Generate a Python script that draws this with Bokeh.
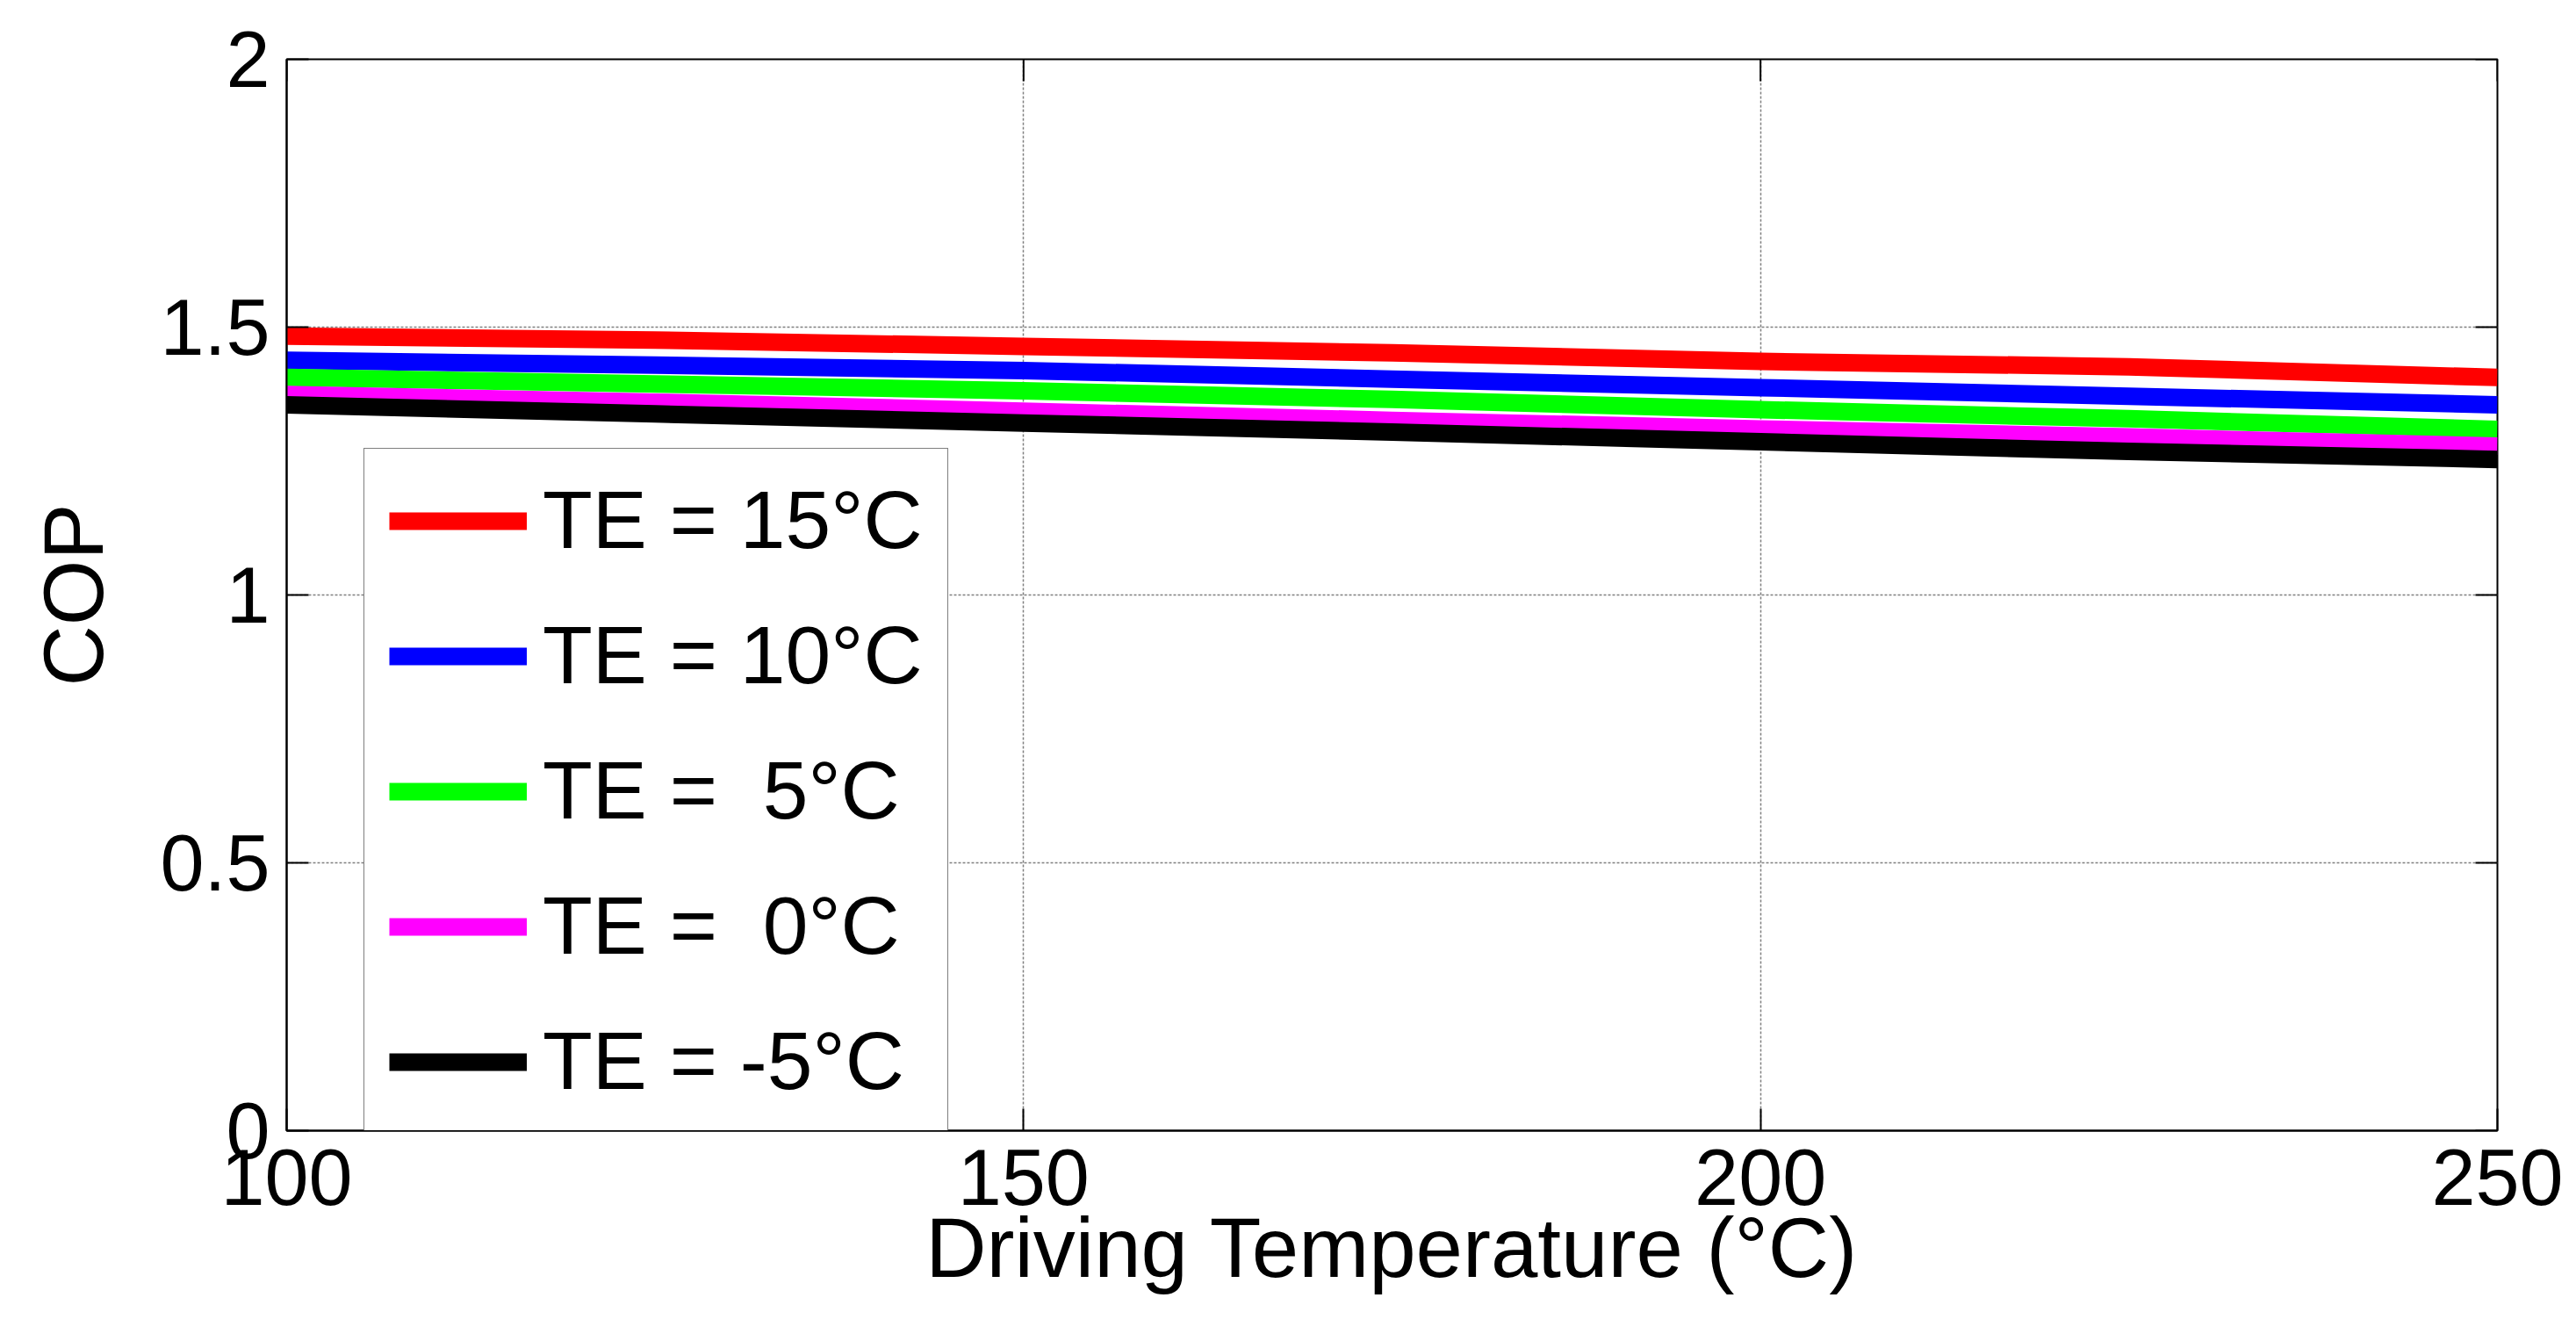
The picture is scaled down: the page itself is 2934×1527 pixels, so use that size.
import math
from bokeh.plotting import figure
from bokeh.models import Range1d, FixedTicker, Legend, LegendItem, NumeralTickFormatter
from bokeh.embed import file_html
from bokeh.resources import INLINE

# ---- data ----
T_DRIVE = [100, 125, 150, 175, 200, 225, 250]
COP_TE15 = [1.483, 1.476, 1.464, 1.452, 1.436, 1.426, 1.406]
COP_TE10 = [1.438, 1.429, 1.419, 1.403, 1.387, 1.371, 1.355]
COP_TE5 = [1.406, 1.394, 1.381, 1.365, 1.346, 1.329, 1.309]
COP_TE0 = [1.374, 1.360, 1.343, 1.326, 1.310, 1.295, 1.278]
COP_TEm5 = [1.355, 1.338, 1.321, 1.304, 1.286, 1.268, 1.253]

SERIES = [COP_TE15, COP_TE10, COP_TE5, COP_TE0, COP_TEm5]
LABELS = ["TE = 15°C", "TE = 10°C", "TE = \u00a05°C", "TE = \u00a00°C", "TE = -5°C"]
COLORS = ["#FF0000", "#0000FF", "#00FF00", "#FF00FF", "#000000"]

X_TICKS = [100, 150, 200, 250]
Y_TICKS = [0, 0.5, 1, 1.5, 2]
X_MIN, X_MAX = 100, 250
Y_MIN, Y_MAX = 0, 2

FONT = "Liberation Sans"
TICK_FS = "90px"
LEGEND_FS = "93px"
LABEL_FS = "96px"

p = figure(width=2934, height=1527, output_backend="svg", toolbar_location=None,
           x_range=Range1d(X_MIN, X_MAX), y_range=Range1d(Y_MIN, Y_MAX),
           min_border_left=326, min_border_right=90, min_border_top=67, min_border_bottom=240,
           x_axis_label="Driving Temperature (°C)", y_axis_label="COP")

p.background_fill_color = "white"
p.border_fill_color = "white"
p.outline_line_color = "black"
p.outline_line_width = 2

renderers = []
for vals, col in zip(SERIES, COLORS):
    r = p.line(T_DRIVE, vals, line_width=20, line_color=col, line_cap="butt", line_join="round")
    renderers.append(r)

p.xaxis.ticker = FixedTicker(ticks=X_TICKS)
p.yaxis.ticker = FixedTicker(ticks=Y_TICKS)
p.yaxis.formatter = NumeralTickFormatter(format="0.[0]")
p.xgrid.ticker = FixedTicker(ticks=X_TICKS)
p.ygrid.ticker = FixedTicker(ticks=Y_TICKS)
p.grid.grid_line_color = "#808080"
p.grid.grid_line_width = 1.5
p.grid.grid_line_dash = "3 2"

for ax in [p.xaxis[0], p.yaxis[0]]:
    ax.major_tick_in = 25
    ax.major_tick_out = 0
    ax.minor_tick_in = 0
    ax.minor_tick_out = 0
    ax.axis_line_color = "black"
    ax.axis_line_width = 2
    ax.major_tick_line_width = 2
    ax.major_label_text_font = FONT
    ax.major_label_text_font_size = TICK_FS
    ax.major_label_text_color = "black"
    ax.axis_label_text_font = FONT
    ax.axis_label_text_font_size = LABEL_FS
    ax.axis_label_text_font_style = "normal"
    ax.axis_label_text_color = "black"

p.xaxis.major_label_standoff = 21
p.xaxis.axis_label_standoff = -8
p.yaxis.major_label_standoff = 19
p.yaxis.axis_label_standoff = 42

# inward tick marks mirrored on the top and right edges of the frame
p.ray(x=X_TICKS, y=[Y_MAX] * len(X_TICKS), length=25, length_units="screen",
      angle=-math.pi / 2, line_color="black", line_width=2)
p.ray(x=[X_MAX] * len(Y_TICKS), y=Y_TICKS, length=25, length_units="screen",
      angle=math.pi, line_color="black", line_width=2)

items = [LegendItem(label=lab, renderers=[r]) for lab, r in zip(LABELS, renderers)]
legend = Legend(items=items, location=(88, -4), margin=0,
                label_text_font=FONT, label_text_font_size=LEGEND_FS, label_text_color="black",
                glyph_width=157, glyph_height=100, label_height=100,
                spacing=47, padding=28, label_standoff=18,
                border_line_color="black", border_line_width=1.5,
                background_fill_color="white", background_fill_alpha=1.0)
p.add_layout(legend)

open("out.html", "w").write(file_html(p, INLINE))
